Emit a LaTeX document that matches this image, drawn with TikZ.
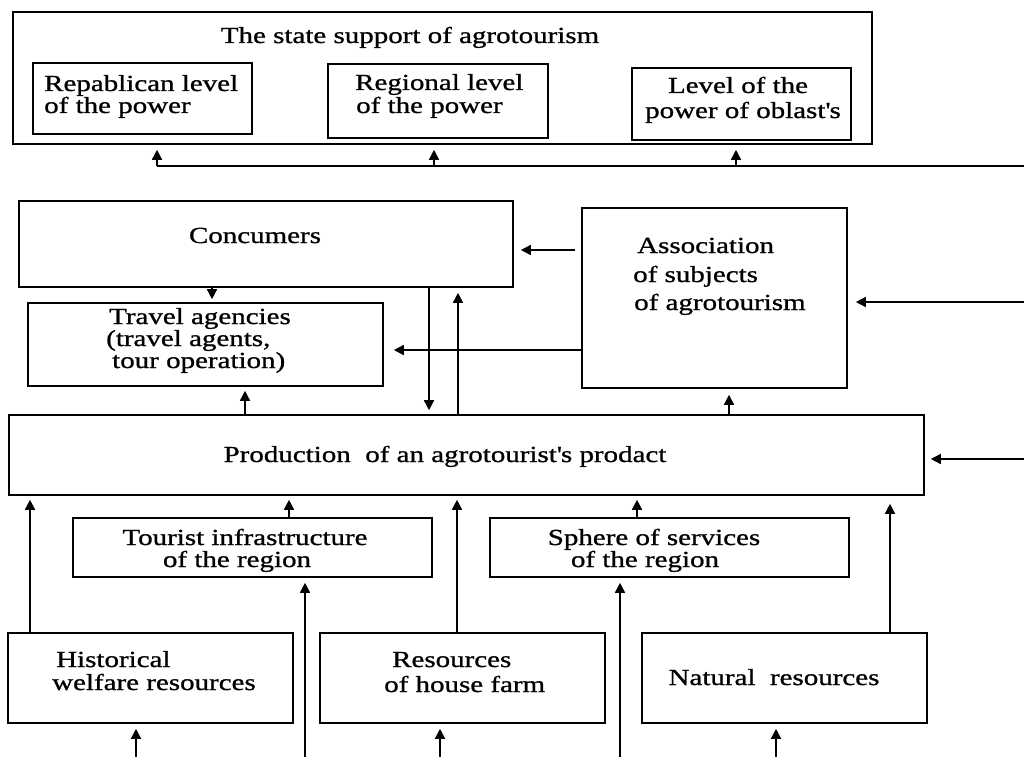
\documentclass[tikz,border=0pt]{standalone}
\usepackage{fontspec}
\setmainfont{Liberation Serif}[FakeStretch=1.26,FakeBold=1]
\usetikzlibrary{arrows.meta}
\begin{document}
\begin{tikzpicture}[x=1pt,y=-1pt,
  box/.style={draw, line width=1.6pt, inner sep=0pt},
  txt/.style={font=\fontsize{23}{23}\selectfont, inner sep=0pt},
  tl/.style={txt, anchor=base west},
  tc/.style={txt, anchor=base},
  wire/.style={line width=1.6pt},
  arr/.style={line width=1.6pt, -{Triangle[length=10pt,width=10pt]}},
]
\useasboundingbox (0,0) rectangle (1024,757);

% ---------- boxes ----------
\node[box, minimum width=859pt, minimum height=132pt] (state)    at (442.5,78)    {};
\node[box, minimum width=219pt, minimum height=71pt]  (repab)    at (142.5,98.5)  {};
\node[box, minimum width=220pt, minimum height=74pt]  (regional) at (438,101)     {};
\node[box, minimum width=219pt, minimum height=72pt]  (oblast)   at (741.5,104)   {};
\node[box, minimum width=494pt, minimum height=86pt]  (concumers) at (266,244)    {};
\node[box, minimum width=355pt, minimum height=83pt]  (travel)   at (205.5,344.5) {};
\node[box, minimum width=265pt, minimum height=180pt] (assoc)    at (714.5,298)   {};
\node[box, minimum width=915pt, minimum height=80pt]  (product)  at (466.5,455)   {};
\node[box, minimum width=359pt, minimum height=59pt]  (tourist)  at (252.5,547.5) {};
\node[box, minimum width=359pt, minimum height=59pt]  (sphere)   at (669.5,547.5) {};
\node[box, minimum width=285pt, minimum height=90pt]  (hist)     at (150.5,678)   {};
\node[box, minimum width=285pt, minimum height=90pt]  (house)    at (462.5,678)   {};
\node[box, minimum width=285pt, minimum height=90pt]  (natural)  at (784.5,678)   {};

% ---------- labels (one node per printed line) ----------
\node[tc] (tstate) at (410,43) {The state support of agrotourism};
\node[tl] (trepab1) at (44,91)  {Repablican level};
\node[tl] (trepab2) at (44,113) {of the power};
\node[tl] (treg1) at (355,90)  {Regional level};
\node[tl] (treg2) at (356,113) {of the power};
\node[tc] (tobl1) at (738,93)  {Level of the};
\node[tc] (tobl2) at (743,118) {power of oblast\textquotesingle s};
\node[tc] (tcons) at (255,243) {Concumers};
\node[tl] (ttrav1) at (109,324) {Travel agencies};
\node[tl] (ttrav2) at (106,346) {(travel agents,};
\node[tl] (ttrav3) at (112,368) {tour operation)};
\node[tl] (tassoc1) at (637,253) {Association};
\node[tl] (tassoc2) at (633,282) {of subjects};
\node[tl] (tassoc3) at (634,310) {of agrotourism};
\node[tc] (tprod) at (445,462) {Production~~of an agrotourist\textquotesingle s prodact};
\node[tc] (ttour1) at (245,545) {Tourist infrastructure};
\node[tc] (ttour2) at (237,567) {of the region};
\node[tc] (tsph1) at (654,545) {Sphere of services};
\node[tc] (tsph2) at (645,567) {of the region};
\node[tl] (thist1) at (56,667) {Historical};
\node[tl] (thist2) at (52,690) {welfare resources};
\node[tl] (thouse1) at (392,667) {Resources};
\node[tl] (thouse2) at (384,692) {of house farm};
\node[tc] (tnat) at (774,685) {Natural~~resources};

% ---------- feedback line to the state support ----------
\coordinate (fbR) at (1024,166);
\coordinate (fb1) at (157,166);
\coordinate (fb2) at (434,166);
\coordinate (fb3) at (736,166);
\draw[wire] (fbR) -- (fb1);
\foreach \i in {1,2,3}
  \draw[arr, shorten >=5pt] (fb\i) -- (fb\i |- state.south);

% ---------- vertical tap positions ----------
\coordinate (xa) at (212,0);
\coordinate (xb) at (245,0);
\coordinate (xc) at (429,0);
\coordinate (xd) at (458,0);
\coordinate (xe) at (729,0);
\coordinate (xf) at (289,0);
\coordinate (xg) at (637,0);
\coordinate (xh) at (30,0);
\coordinate (xi) at (457,0);
\coordinate (xj) at (890,0);
\coordinate (xk) at (136,0);
\coordinate (xl) at (305,0);
\coordinate (xm) at (440,0);
\coordinate (xn) at (620,0);
\coordinate (xo) at (776,0);
\coordinate (ya) at (0,250);
\coordinate (yb) at (0,350);

% ---------- middle part ----------
\draw[arr, shorten >=3pt] (xa |- concumers.south) -- (xa |- travel.north);
\draw[arr, shorten >=4pt] (xb |- product.north) -- (xb |- travel.south);
\draw[arr, shorten >=4pt] (xc |- concumers.south) -- (xc |- product.north);
\draw[arr, shorten >=5pt] (xd |- product.north) -- (xd |- concumers.south);
\draw[arr, shorten <=6pt, shorten >=7pt] (assoc.west |- ya) -- (concumers.east |- ya);
\draw[arr, shorten >=10pt] (assoc.west |- yb) -- (travel.east |- yb);
\draw[arr, shorten >=6pt] (xe |- product.north) -- (xe |- assoc.south);
\coordinate (inA) at (1024,302);
\draw[arr, shorten >=8pt] (inA) -- (assoc.east |- inA);
\coordinate (inP) at (1024,459);
\draw[arr, shorten >=6pt] (inP) -- (product.east |- inP);

% ---------- lower part ----------
\draw[arr, shorten >=4pt] (xf |- tourist.north) -- (xf |- product.south);
\draw[arr, shorten >=4pt] (xg |- sphere.north) -- (xg |- product.south);
\draw[arr, shorten >=4pt] (xh |- hist.north) -- (xh |- product.south);
\draw[arr, shorten >=4pt] (xi |- house.north) -- (xi |- product.south);
\draw[arr, shorten >=8pt] (xj |- natural.north) -- (xj |- product.south);

\coordinate (bot) at (0,757);
\draw[arr, shorten >=5pt] (xk |- bot) -- (xk |- hist.south);
\draw[arr, shorten >=5pt] (xl |- bot) -- (xl |- tourist.south);
\draw[arr, shorten >=5pt] (xm |- bot) -- (xm |- house.south);
\draw[arr, shorten >=5pt] (xn |- bot) -- (xn |- sphere.south);
\draw[arr, shorten >=5pt] (xo |- bot) -- (xo |- natural.south);
\end{tikzpicture}
\end{document}
